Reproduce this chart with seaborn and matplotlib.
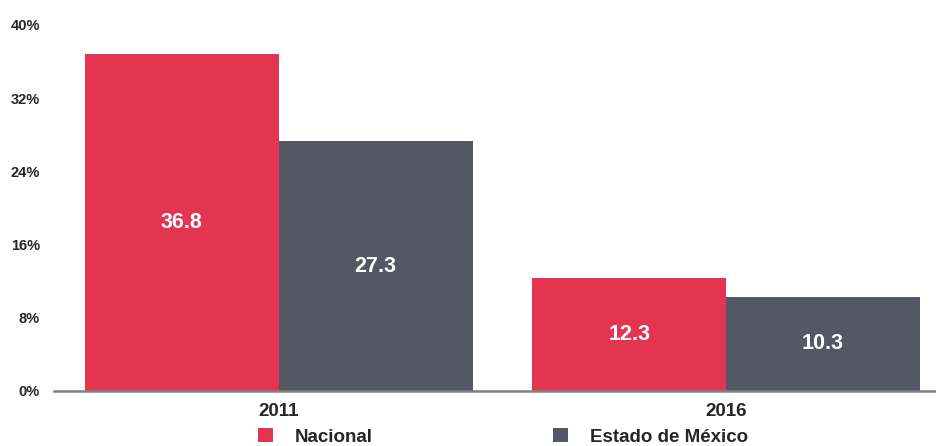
import matplotlib
matplotlib.use("Agg")
import matplotlib.pyplot as plt
import seaborn as sns
import pandas as pd
from matplotlib.patches import Patch

years = ["2011", "2016"]
series = ["Nacional", "Estado de México"]
nacional = [36.8, 12.3]
edomex = [27.3, 10.3]
yticks = [0, 8, 16, 24, 32, 40]

colors = ["#E33552", "#535862"]

df = pd.DataFrame({
    "year": years * 2,
    "serie": [series[0]] * 2 + [series[1]] * 2,
    "value": nacional + edomex,
})

sns.set_style("white")
plt.rcParams['font.family'] = ['Liberation Sans', 'DejaVu Sans']

fig = plt.figure(figsize=(9.36, 4.46), dpi=100)
ax = fig.add_axes([54/936, 55/446, 1 - 54/936, (391-25)/446])

sns.barplot(data=df, x="year", y="value", hue="serie", order=years,
            hue_order=series, palette=colors, width=0.867, ax=ax,
            saturation=1, legend=False, errorbar=None, linewidth=0)

for cont in ax.containers:
    ax.bar_label(cont, labels=[f"{v:.1f}" for v in cont.datavalues],
                 label_type="center", color="white", fontsize=15.5,
                 fontweight="bold")

ax.set_ylim(0, 40)
ax.set_xlim(-0.502, 1.469)
ax.set_yticks(yticks)
ax.set_yticklabels([f"{t}%" for t in yticks], fontsize=10.5, fontweight="bold")
ax.tick_params(axis="y", length=0, pad=10)
ax.tick_params(axis="x", length=0, pad=9)
for lbl in ax.get_xticklabels():
    lbl.set_fontsize(13.5)
    lbl.set_fontweight("bold")
ax.set_xlabel("")
ax.set_ylabel("")
for s in ["top", "right", "left"]:
    ax.spines[s].set_visible(False)
ax.spines["bottom"].set_color("#808080")
ax.spines["bottom"].set_linewidth(1.8)

handles = [Patch(facecolor=c, edgecolor="none") for c in colors]
fig.legend(handles, series, loc="center left", bbox_to_anchor=(258/936, 9/446),
           ncol=2, frameon=False, borderpad=0, borderaxespad=0,
           handlelength=0.78, handleheight=0.78,
           handletextpad=1.2, columnspacing=9.6,
           prop={"weight": "bold", "size": 13.5})

fig.savefig("out.png", dpi=100)
